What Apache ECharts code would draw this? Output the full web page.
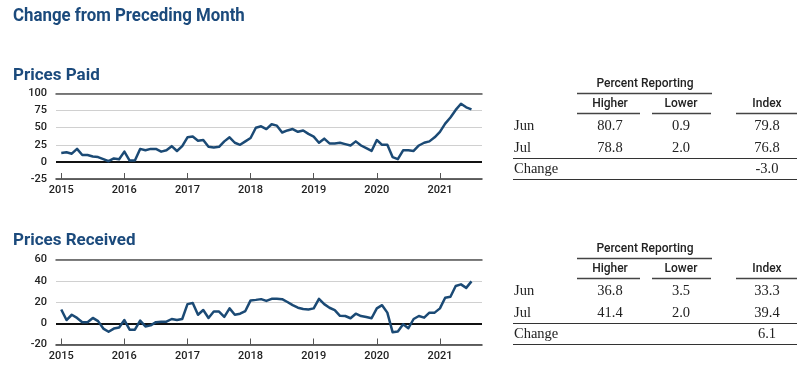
<!DOCTYPE html>
<html>
<head>
<meta charset="utf-8">
<script src="https://cdn.jsdelivr.net/npm/echarts@6/dist/echarts.min.js"></script>
<style>
html,body{margin:0;padding:0;background:#fff;}
#chart{width:811px;height:367px;}
</style>
</head>
<body>
<div id="chart"></div>
<script>
// ---- data ----
var months = [
 '2015-01','2015-02','2015-03','2015-04','2015-05','2015-06','2015-07','2015-08','2015-09','2015-10','2015-11','2015-12',
 '2016-01','2016-02','2016-03','2016-04','2016-05','2016-06','2016-07','2016-08','2016-09','2016-10','2016-11','2016-12',
 '2017-01','2017-02','2017-03','2017-04','2017-05','2017-06','2017-07','2017-08','2017-09','2017-10','2017-11','2017-12',
 '2018-01','2018-02','2018-03','2018-04','2018-05','2018-06','2018-07','2018-08','2018-09','2018-10','2018-11','2018-12',
 '2019-01','2019-02','2019-03','2019-04','2019-05','2019-06','2019-07','2019-08','2019-09','2019-10','2019-11','2019-12',
 '2020-01','2020-02','2020-03','2020-04','2020-05','2020-06','2020-07','2020-08','2020-09','2020-10','2020-11','2020-12',
 '2021-01','2021-02','2021-03','2021-04','2021-05','2021-06','2021-07'
];
var pricesPaid = [
 13,14,12,19,10,10,8,7,4,1,5,4,
 15,2,2,19,17,19,19,15,17,23,16,23,
 36,37,31,32,22,21,22,30,36,28,25,30,
 35,50,52,48,55,53,43,46,48,44,46,41,
 37,28,34,27,27,28,26,24,30,24,20,16,
 32,25,25,7,4,17,17,16,24,28,30,36,
 44,56,65,76,85,79.8,76.8
];
var pricesReceived = [
 13,3,8,5,1,1,5,2,-5,-8,-5,-4,
 3,-6,-6,2.5,-3,-2,1,1.5,1.5,4,3,4,
 18,19,8,12.5,5,11,11,6,14,8,9,11.5,
 21.5,22,22.7,21,23,23,22.7,20,17,14.6,13.4,13,
 14,23,18,14.6,12.4,7,6.8,4.7,9,6.8,5.9,4.7,
 14,17,10,-8.4,-7.8,-1,-4.7,4,6.8,5.3,10,10,
 14,24,25,35,36.6,33.3,39.4
];
var yearLabels = ['2015','2016','2017','2018','2019','2020','2021'];
var paidTicks = [-25, 0, 25, 50, 75, 100];
var recvTicks = [-20, 0, 20, 40, 60];

var tableHeaders = ['Higher', 'Lower', 'Index'];
var rowLabels = ['Jun', 'Jul', 'Change'];
var paidJun = ['80.7', '0.9', '79.8'];
var paidJul = ['78.8', '2.0', '76.8'];
var paidChange = '-3.0';
var recvJun = ['36.8', '3.5', '33.3'];
var recvJul = ['41.4', '2.0', '39.4'];
var recvChange = '6.1';

// ---- helpers ----
var LINE_COLOR = '#1b4a75';
var TITLE_COLOR = '#1b4a7c';
var SANS = 'Roboto, "Liberation Sans", Arial, sans-serif';
var SERIF = '"Liberation Serif", "Times New Roman", serif';

function toPairs(vals) {
  return vals.map(function (v, i) { return [i, v]; });
}
var yearTickPos = yearLabels.map(function (y) { return months.indexOf(y + '-01'); });

function xAxisPair(gi) {
  return [{
    type: 'value', gridIndex: gi, min: -1, max: 80,
    axisLine: { show: true, onZero: false, lineStyle: { color: '#333', width: 1.5 } },
    axisTick: { show: true, inside: true, length: 6, lineStyle: { color: '#555', width: 1 }, customValues: yearTickPos },
    axisLabel: {
      show: true, margin: 6, color: '#222', fontSize: 11, fontFamily: SANS, fontWeight: 500,
      customValues: yearTickPos,
      formatter: function (v) { return yearLabels[yearTickPos.indexOf(v)] || ''; }
    },
    splitLine: { show: false }
  }, {
    type: 'value', gridIndex: gi, min: -1, max: 80, position: 'top',
    axisLine: { show: true, onZero: false, lineStyle: { color: '#555', width: 1.5 } },
    axisTick: { show: false }, axisLabel: { show: false }, splitLine: { show: false }
  }];
}
function yAxis(gi, ticks) {
  return {
    type: 'value', gridIndex: gi, min: ticks[0], max: ticks[ticks.length - 1],
    interval: ticks[1] - ticks[0],
    axisLine: { show: false }, axisTick: { show: false },
    axisLabel: { margin: 9, color: '#222', fontSize: 11, fontFamily: SANS, fontWeight: 500 },
    splitLine: { show: true, lineStyle: { color: '#d0d0d0', width: 1 } }
  };
}
function lineSeries(xi, yi, vals) {
  return {
    type: 'line', xAxisIndex: xi, yAxisIndex: yi, data: toPairs(vals),
    showSymbol: false, symbol: 'none',
    lineStyle: { color: LINE_COLOR, width: 2.5, join: 'round' },
    z: 5,
    markLine: {
      silent: true, symbol: 'none', label: { show: false }, animation: false,
      lineStyle: { color: '#111', width: 2, type: 'solid' },
      data: [{ yAxis: 0 }], z: 3
    }
  };
}

function txt(x, y, text, font, align, color, sx) {
  return {
    type: 'text', x: x, y: y, silent: true, scaleX: sx || 1,
    style: { text: text, font: font, fill: color || '#222', align: align || 'left', verticalAlign: 'middle',
             textAlign: align || 'left', textVerticalAlign: 'middle' }
  };
}
function hline(x1, x2, y, color, w) {
  return { type: 'line', silent: true, shape: { x1: x1, y1: y, x2: x2, y2: y },
           style: { stroke: color || '#333', lineWidth: w || 1.5 } };
}
var colX = [610, 681, 767];
function table(dy, jun, jul, change) {
  var hf = '500 12px ' + SANS;
  var vf = '14.5px ' + SERIF;
  var els = [];
  els.push(txt(645, 84 + dy, 'Percent Reporting', hf, 'center'));
  els.push(hline(577, 712, 93.5 + dy, '#444', 1.5));
  for (var i = 0; i < 3; i++) els.push(txt(colX[i], 103.5 + dy, tableHeaders[i], hf, 'center'));
  els.push(hline(577, 640, 113.5 + dy, '#444', 1.5));
  els.push(hline(652, 711, 113.5 + dy, '#444', 1.5));
  els.push(hline(736, 797, 113.5 + dy, '#444', 1.5));
  els.push(txt(514, 126 + dy, rowLabels[0], vf, 'left'));
  els.push(txt(514, 148.5 + dy, rowLabels[1], vf, 'left'));
  for (var j = 0; j < 3; j++) {
    els.push(txt(colX[j], 126 + dy, jun[j], vf, 'center'));
    els.push(txt(colX[j], 148.5 + dy, jul[j], vf, 'center'));
  }
  els.push(hline(513, 797, 158.5 + dy, '#333', 1.2));
  els.push(txt(514, 169.5 + dy, rowLabels[2], vf, 'left'));
  els.push(txt(colX[2], 169.5 + dy, change, vf, 'center'));
  els.push(hline(513, 797, 179.5 + dy, '#333', 1.2));
  return els;
}

var graphics = [
  txt(13, 16.5, 'Change from Preceding Month', 'bold 18.5px ' + SANS, 'left', TITLE_COLOR, 0.91),
  txt(13, 75.5, 'Prices Paid', 'bold 17px ' + SANS, 'left', TITLE_COLOR),
  txt(13, 241, 'Prices Received', 'bold 17px ' + SANS, 'left', TITLE_COLOR)
].concat(table(0, paidJun, paidJul, paidChange)).concat(table(165, recvJun, recvJul, recvChange));

var xa = xAxisPair(0).concat(xAxisPair(1));
var chart = echarts.init(document.getElementById('chart'), null, { renderer: 'canvas' });
chart.setOption({
  animation: false,
  backgroundColor: '#fff',
  grid: [
    { left: 56, right: 329, top: 93.5, height: 85.5, containLabel: false },
    { left: 56, right: 329, top: 259.5, height: 85, containLabel: false }
  ],
  xAxis: xa,
  yAxis: [yAxis(0, paidTicks), yAxis(1, recvTicks)],
  series: [lineSeries(0, 0, pricesPaid), lineSeries(2, 1, pricesReceived)],
  graphic: graphics
});
</script>
</body>
</html>
